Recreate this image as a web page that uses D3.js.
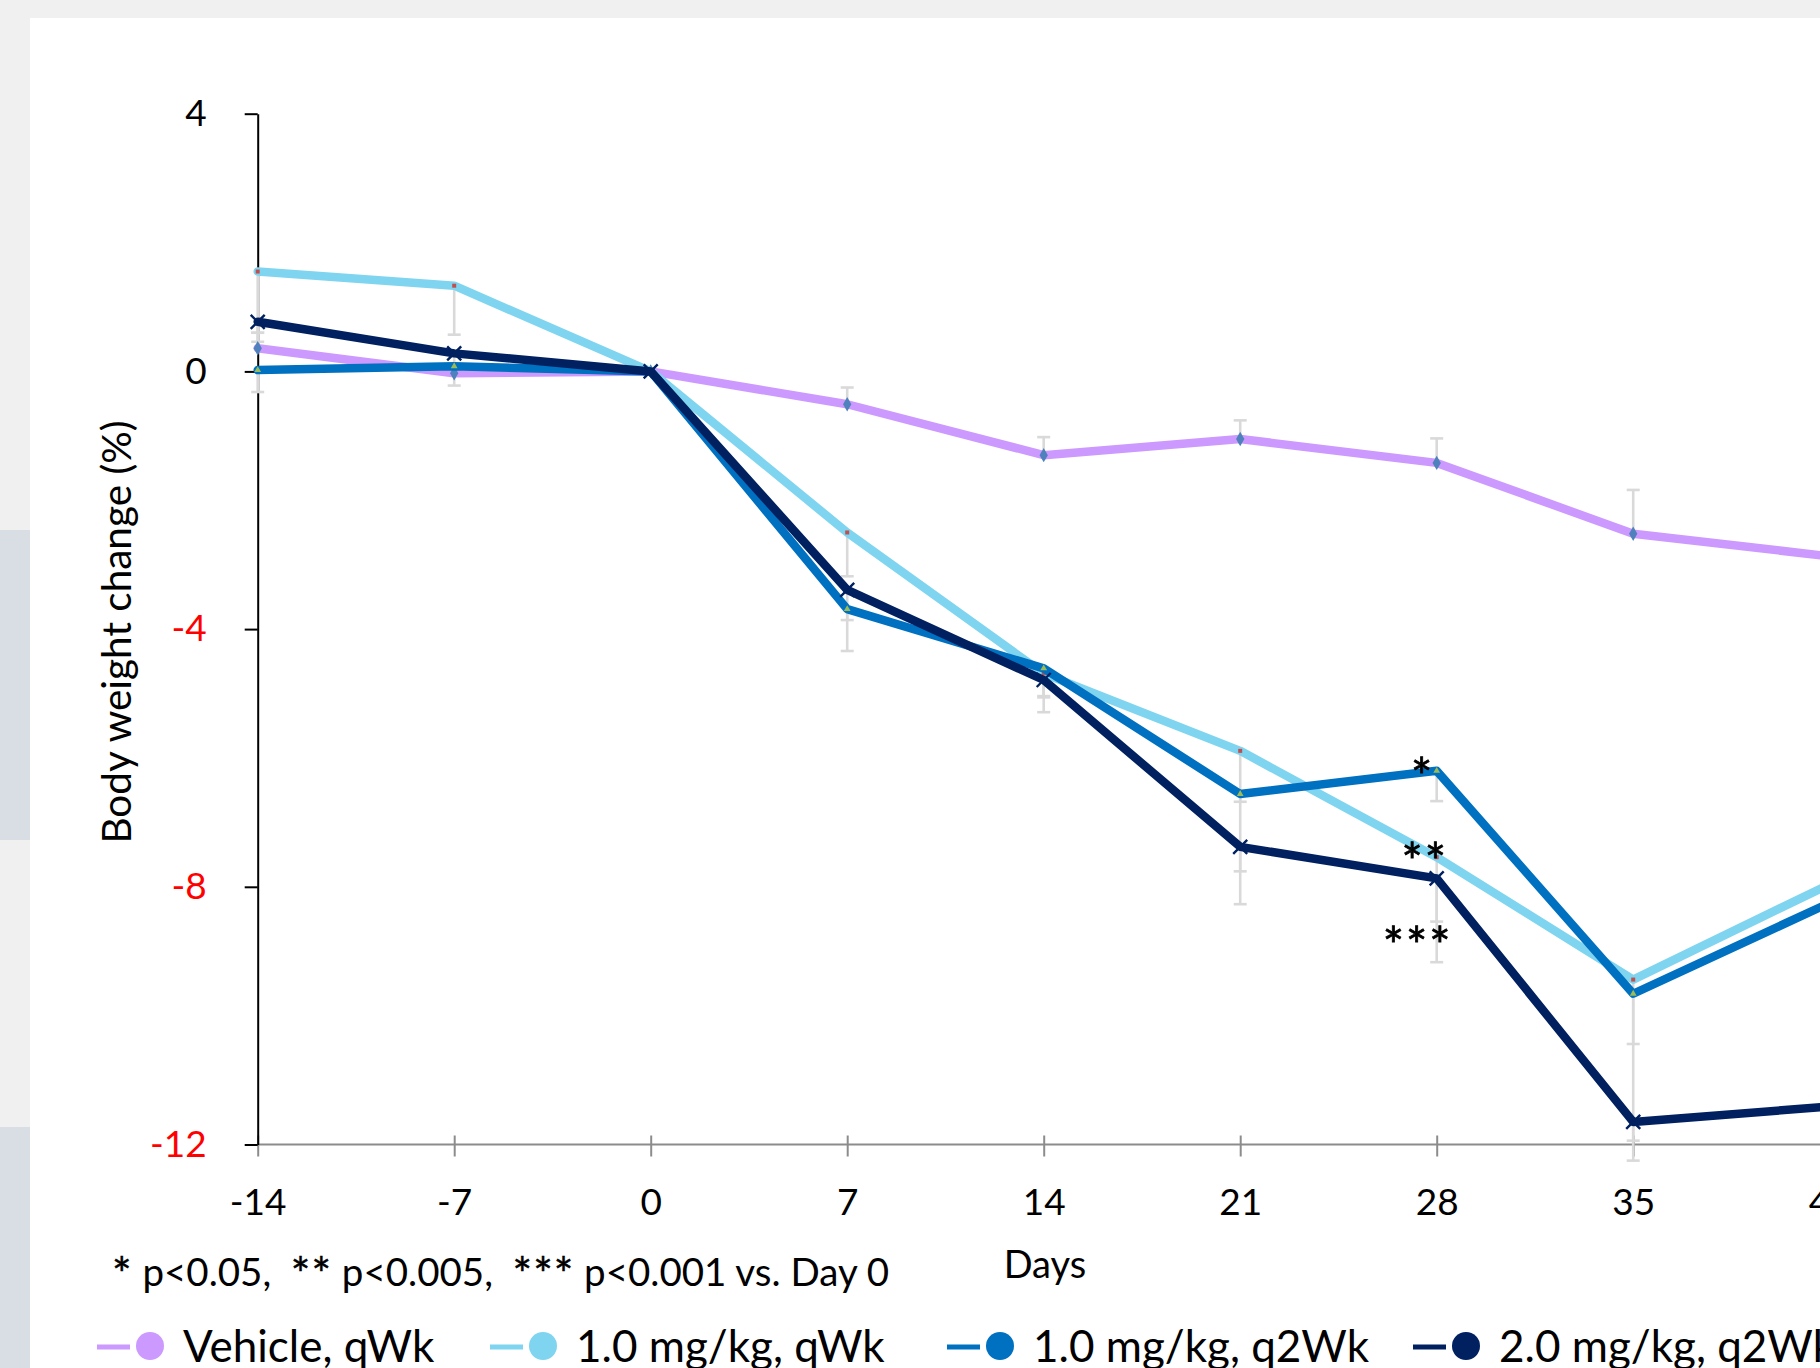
<!DOCTYPE html>
<html>
<head>
<meta charset="utf-8">
<script src="https://cdn.jsdelivr.net/npm/d3@7"></script>
<style>
  html, body { margin: 0; padding: 0; background: #f0f0f0; overflow: hidden; }
  svg { display: block; }
  text { font-family: Lato, "Open Sans", sans-serif; }
</style>
</head>
<body>
<svg id="chart" width="1820" height="1368"></svg>
<script>
// ---------------- data ----------------
const days = [-14, -7, 0, 7, 14, 21, 28, 35, 42];
const seriesNames = ["Vehicle, qWk", "1.0 mg/kg, qWk", "1.0 mg/kg, q2Wk", "2.0 mg/kg, q2Wk"];
const vehicle   = [0.36, -0.03, 0, -0.51, -1.30, -1.05, -1.42, -2.52, -2.87];
const dose1qwk  = [1.55, 1.33, 0, -2.50, -4.69, -5.89, -7.54, -9.44, -7.96];
const dose1q2wk = [0.02, 0.08, 0, -3.69, -4.61, -6.56, -6.20, -9.66, -8.25];
const dose2q2wk = [0.77, 0.28, 0, -3.39, -4.79, -7.38, -7.87, -11.65, -11.41];
// standard errors (vehicle plotted upward, treated groups downward)
const vehicleErr   = [0.24, 0.15, 0, 0.26, 0.28, 0.29, 0.38, 0.68, 0.60];
const dose1qwkErr  = [0.95, 0.76, 0, 0.68, 0.35, 0.79, 1.00, 2.50, 0.80];
const dose1q2wkErr = [0.34, 0.30, 0, 0.65, 0.45, 1.20, 0.47, 0.78, 0.80];
const dose2q2wkErr = [0.31, 0.25, 0, 0.47, 0.50, 0.89, 1.30, 0.60, 0.60];
const yTicks = [4, 0, -4, -8, -12];
const xTicks = [-14, -7, 0, 7, 14, 21, 28, 35, 42, 49];
const sigDay = 28;
const sigMarks = ["*", "**", "***"];          // for 1.0 q2Wk, 1.0 qWk, 2.0 q2Wk
const footnote = "* p<0.05,  ** p<0.005,  *** p<0.001 vs. Day 0";
const xTitle = "Days";
const yTitle = "Body weight change (%)";

// ---------------- layout / styles ----------------
const colors = ["#cc99ff", "#7fd4f0", "#0070c0", "#002060"];
const series = [
  {name: seriesNames[0], vals: vehicle,   err: vehicleErr,   dir: 1,  color: colors[0], marker: "diamond"},
  {name: seriesNames[1], vals: dose1qwk,  err: dose1qwkErr,  dir: -1, color: colors[1], marker: "square"},
  {name: seriesNames[2], vals: dose1q2wk, err: dose1q2wkErr, dir: -1, color: colors[2], marker: "triangle"},
  {name: seriesNames[3], vals: dose2q2wk, err: dose2q2wkErr, dir: -1, color: colors[3], marker: "x"}
];

const svg = d3.select("#chart");
const W = 1820, H = 1368;

// background panels
svg.append("rect").attr("x", 0).attr("y", 0).attr("width", W).attr("height", H).attr("fill", "#f0f0f0");
svg.append("rect").attr("x", 0).attr("y", 530).attr("width", 30).attr("height", 310).attr("fill", "#d9dee5");
svg.append("rect").attr("x", 0).attr("y", 1127).attr("width", 30).attr("height", 241).attr("fill", "#d9dee5");
svg.append("rect").attr("x", 30).attr("y", 18).attr("width", W - 30).attr("height", H - 18).attr("fill", "#ffffff");

const x = d3.scaleLinear().domain([-14, 42]).range([257.7, 1829.7]);
const y = d3.scaleLinear().domain([-12, 4]).range([1144.5, 113.7]);

// ---------------- axes ----------------
const xAxis = svg.append("g")
  .attr("transform", `translate(0,${y(-12)})`)
  .call(d3.axisBottom(x).tickValues(xTicks).tickFormat(d => String(d)).tickSize(12).tickSizeOuter(0));
xAxis.select(".domain").attr("stroke", "#8c8c8c").attr("stroke-width", 2.2)
  .attr("d", `M${x(-14)},0H${x(49)}`);
xAxis.selectAll(".tick line").attr("stroke", "#8c8c8c").attr("stroke-width", 2).attr("y1", -9).attr("y2", 12);
xAxis.selectAll(".tick text").attr("fill", "#000").attr("y", 70.5).attr("dy", 0)
  .attr("font-size", 37).attr("font-family", "Lato");

const yAxis = svg.append("g")
  .attr("transform", `translate(${x(-14)},0)`)
  .call(d3.axisLeft(y).tickValues(yTicks).tickFormat(d => String(d)).tickSize(13).tickSizeOuter(0).tickPadding(38));
yAxis.select(".domain").attr("stroke", "#000").attr("stroke-width", 2);
yAxis.selectAll(".tick line").attr("stroke", "#000").attr("stroke-width", 2);
yAxis.selectAll(".tick text").attr("font-size", 37).attr("font-family", "Lato")
  .attr("fill", d => d < 0 ? "#ff0000" : "#000");

// axis titles
svg.append("text").attr("transform", `translate(131,632) rotate(-90)`)
  .attr("text-anchor", "middle").attr("font-size", 40.5).attr("fill", "#000").text(yTitle);
svg.append("text").attr("x", 1045).attr("y", 1278).attr("text-anchor", "middle")
  .attr("font-size", 38).attr("fill", "#000").text(xTitle);

// footnote: asterisk runs drawn a little larger and lower
const fn = svg.append("text").attr("x", 112).attr("y", 1286).attr("font-size", 38.5).attr("fill", "#000")
  .attr("xml:space", "preserve").style("white-space", "pre");
footnote.split(/(\*+)/).filter(p => p.length).forEach(p => {
  const isStar = p[0] === "*";
  const t = fn.append("tspan").text(p).attr("dy", isStar ? 5 : -5);
  if (isStar) t.attr("font-size", 46).attr("letter-spacing", 1).attr("stroke", "#000").attr("stroke-width", 0.5);
});
fn.select("tspan").attr("dy", 5);

// ---------------- error bars ----------------
const eb = svg.append("g");
series.forEach(s => {
  days.forEach((d, i) => {
    if (!s.err[i]) return;
    const y0 = y(s.vals[i]), y1 = y(s.vals[i] + s.dir * s.err[i]);
    eb.append("line").attr("x1", x(d)).attr("x2", x(d)).attr("y1", y0).attr("y2", y1)
      .attr("stroke", "#d9d9d9").attr("stroke-width", 2.6);
    eb.append("line").attr("x1", x(d) - 6.5).attr("x2", x(d) + 6.5).attr("y1", y1).attr("y2", y1)
      .attr("stroke", "#d9d9d9").attr("stroke-width", 2.6);
  });
});

// ---------------- lines + markers ----------------
const line = d3.line().x((d, i) => x(days[i])).y(d => y(d));
series.forEach(s => {
  svg.append("path").datum(s.vals).attr("d", line).attr("fill", "none")
    .attr("stroke", s.color).attr("stroke-width", 8.5)
    .attr("stroke-linejoin", "round").attr("stroke-linecap", "round");
  const g = svg.append("g");
  days.forEach((d, i) => {
    const px = x(d), py = y(s.vals[i]);
    if (s.marker === "diamond") {
      g.append("path").attr("d", d3.symbol(d3.symbolDiamond, 60)()).attr("transform", `translate(${px},${py})`)
        .attr("fill", "#4f81bd");
    } else if (s.marker === "square") {
      g.append("path").attr("d", d3.symbol(d3.symbolSquare, 16)()).attr("transform", `translate(${px},${py})`)
        .attr("fill", "#c0504d");
    } else if (s.marker === "triangle") {
      g.append("path").attr("d", d3.symbol(d3.symbolTriangle, 20)()).attr("transform", `translate(${px},${py})`)
        .attr("fill", "#9bbb59");
    } else {
      g.append("path").attr("d", "M-7,-7L7,7M-7,7L7,-7").attr("transform", `translate(${px},${py})`)
        .attr("stroke", "#002060").attr("stroke-width", 2.4).attr("fill", "none");
    }
  });
});

// ---------------- significance marks ----------------
const si = days.indexOf(sigDay);
const sigSeries = [dose1q2wk, dose1qwk, dose2q2wk];
const sigOffsets = [[-14, 24], [-12, 23], [-19, 86]];
sigMarks.forEach((m, k) => {
  svg.append("text")
    .attr("x", x(sigDay) + sigOffsets[k][0])
    .attr("y", y(sigSeries[k][si]) + sigOffsets[k][1])
    .attr("text-anchor", "middle").attr("font-size", 50).attr("letter-spacing", 2)
    .attr("fill", "#000").attr("stroke", "#000").attr("stroke-width", 0.8).text(m);
});

// ---------------- legend ----------------
const legendX = [150, 543, 1000, 1466];
const legendY = 1346;
series.forEach((s, k) => {
  const cx = legendX[k];
  svg.append("line").attr("x1", cx - 53).attr("x2", cx - 20).attr("y1", legendY + 1).attr("y2", legendY + 1)
    .attr("stroke", s.color).attr("stroke-width", 5);
  svg.append("circle").attr("cx", cx).attr("cy", legendY).attr("r", 14).attr("fill", s.color);
  svg.append("text").attr("x", cx + 33).attr("y", 1362).attr("font-size", 44).attr("fill", "#000").text(s.name);
});
</script>
</body>
</html>
